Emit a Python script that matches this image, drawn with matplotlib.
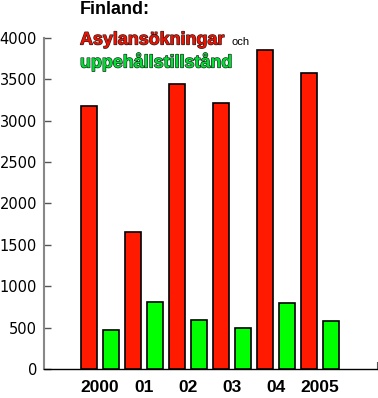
import matplotlib.pyplot as plt
import matplotlib.patheffects as pe
import numpy as np

years = ['2000', '01', '02', '03', '04', '2005']
asyl = [3180, 1650, 3445, 3220, 3860, 3575]
uppeh = [467, 810, 592, 495, 798, 584]

fig = plt.figure(figsize=(3.78, 3.98), dpi=100)
ax = fig.add_axes([0.1164, 0.0729, 0.8806, 0.8316])

x = np.arange(len(years))
w = 0.37
off = 0.49
ax.bar(x, asyl, w, color='#ff1a00', edgecolor='black', linewidth=1.2, zorder=3)
ax.bar(x + off, uppeh, w, color='#00ff00', edgecolor='black', linewidth=1.2, zorder=3)

ax.set_xlim(-1.03, 6.54)
ax.set_ylim(0, 4000)
ax.set_yticks(np.arange(0, 4001, 500))
ax.set_xticks(x + off / 2)
ax.set_xticklabels(years, fontfamily='Liberation Sans', fontweight='bold', fontsize=12.5)
ax.tick_params(axis='x', length=0, pad=8)
ax.tick_params(axis='y', direction='in', length=5, width=1, color='#555555',
               labelsize=10.5, pad=5)

ax.spines['top'].set_visible(False)
ax.spines['right'].set_bounds(0, 90)
ax.spines['right'].set_color('#555555')
ax.spines['left'].set_color('#888888')
ax.spines['left'].set_linewidth(1.5)
ax.spines['bottom'].set_linewidth(1.0)

fig.text(80 / 378, 1 - 10 / 398, 'Finland:', fontfamily='Liberation Sans', fontweight='bold',
         fontsize=13, va='center', ha='left')
stroke = [pe.withStroke(linewidth=0.9, foreground='#222222')]
fig.text(80 / 378, 1 - 40 / 398, 'Asylansökningar', fontfamily='Liberation Sans',
         fontweight='bold', fontsize=12.9, color='#ee1100', va='center', ha='left',
         path_effects=stroke)
fig.text(231 / 378, 1 - 42 / 398, 'och', fontfamily='Liberation Sans', fontsize=8,
         va='center', ha='left')
fig.text(80 / 378, 1 - 62 / 398, 'uppehållstillstånd', fontfamily='Liberation Sans',
         fontweight='bold', fontsize=12.9, color='#00dd33', va='center', ha='left',
         path_effects=stroke)

fig.savefig('out.png', dpi=100)
